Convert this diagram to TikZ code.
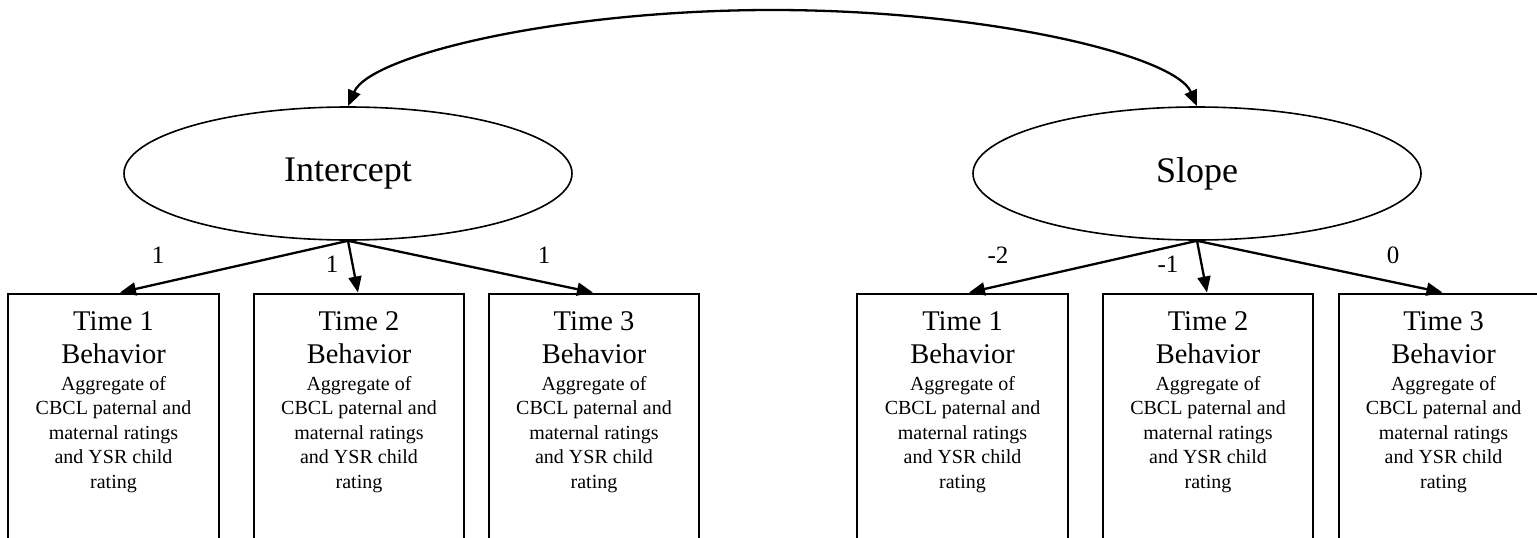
\documentclass[tikz,border=0pt]{standalone}
\usepackage{fontspec}
\setmainfont{Liberation Serif}
\usetikzlibrary{arrows.meta,shapes.geometric}
\tikzset{
  boxst/.style={draw, line width=2pt, minimum height=340pt, anchor=north, inner sep=0pt},
  ell/.style={ellipse, draw, line width=1.6pt, minimum width=448pt, minimum height=133pt, inner sep=0pt, font=\fontsize{36}{40}\selectfont},
  bigtxt/.style={anchor=base, inner sep=0pt, font=\fontsize{28.5}{33}\selectfont},
  smalltxt/.style={anchor=base, inner sep=0pt, font=\fontsize{20}{24}\selectfont},
  lab/.style={anchor=base, inner sep=0pt, font=\fontsize{25}{30}\selectfont},
  conn/.style={line width=2.3pt, -{Triangle[length=16pt,width=13pt]}},
  dconn/.style={line width=2.3pt, {Triangle[length=16pt,width=13pt]}-{Triangle[length=16pt,width=13pt]}}
}
\newcommand{\behbox}[4]{%
  \node[boxst, minimum width=#4] (#1) at (#2,292.5) {};
  \node[bigtxt] (#1t) at (#2,330) {Time #3};
  \node[bigtxt] (#1b) at (#2,363) {Behavior};
  \node[smalltxt] (#1a) at (#2,390) {Aggregate of};
  \node[smalltxt] (#1c) at (#2,414.5) {CBCL paternal and};
  \node[smalltxt] (#1m) at (#2,439) {maternal ratings};
  \node[smalltxt] (#1y) at (#2,463.5) {and YSR child};
  \node[smalltxt] (#1r) at (#2,488) {rating};
}
\begin{document}
\begin{tikzpicture}[x=1pt,y=-1pt]
\useasboundingbox (0,0) rectangle (1537,538);
\clip (0,0) rectangle (1537,538);
\fill[white] (0,0) rectangle (1537,538);

\node[ell] (I) at (348,173.5) {Intercept};
\node[ell] (S) at (1197,173.5) {Slope};

\behbox{b1}{113.5}{1}{211pt}
\behbox{b2}{359}{2}{210pt}
\behbox{b3}{594}{3}{210pt}
\behbox{b4}{962.5}{1}{211pt}
\behbox{b5}{1208}{2}{210pt}
\behbox{b6}{1443.5}{3}{210pt}

\coordinate (peak) at (772.5,10);
\draw[dconn] (I.north) .. controls (370,55) and (560,10) .. (peak)
  .. controls (985,10) and (1175,55) .. (S.north);

\draw[conn] (I.south) -- ([xshift=6.5pt]b1.north);
\draw[conn] (I.south) -- ([xshift=-1pt]b2.north);
\draw[conn] (I.south) -- ([xshift=-1pt]b3.north);
\draw[conn] (S.south) -- ([xshift=6.5pt]b4.north);
\draw[conn] (S.south) -- ([xshift=-1pt]b5.north);
\draw[conn] (S.south) -- ([xshift=-1pt]b6.north);

\node[lab] (l1) at (158,263.5) {1};
\node[lab] (l2) at (332,272) {1};
\node[lab] (l3) at (544,263.5) {1};
\node[lab] (l4) at (998,263.5) {-2};
\node[lab] (l5) at (1168,272) {-1};
\node[lab] (l6) at (1393,263.5) {0};
\end{tikzpicture}
\end{document}
